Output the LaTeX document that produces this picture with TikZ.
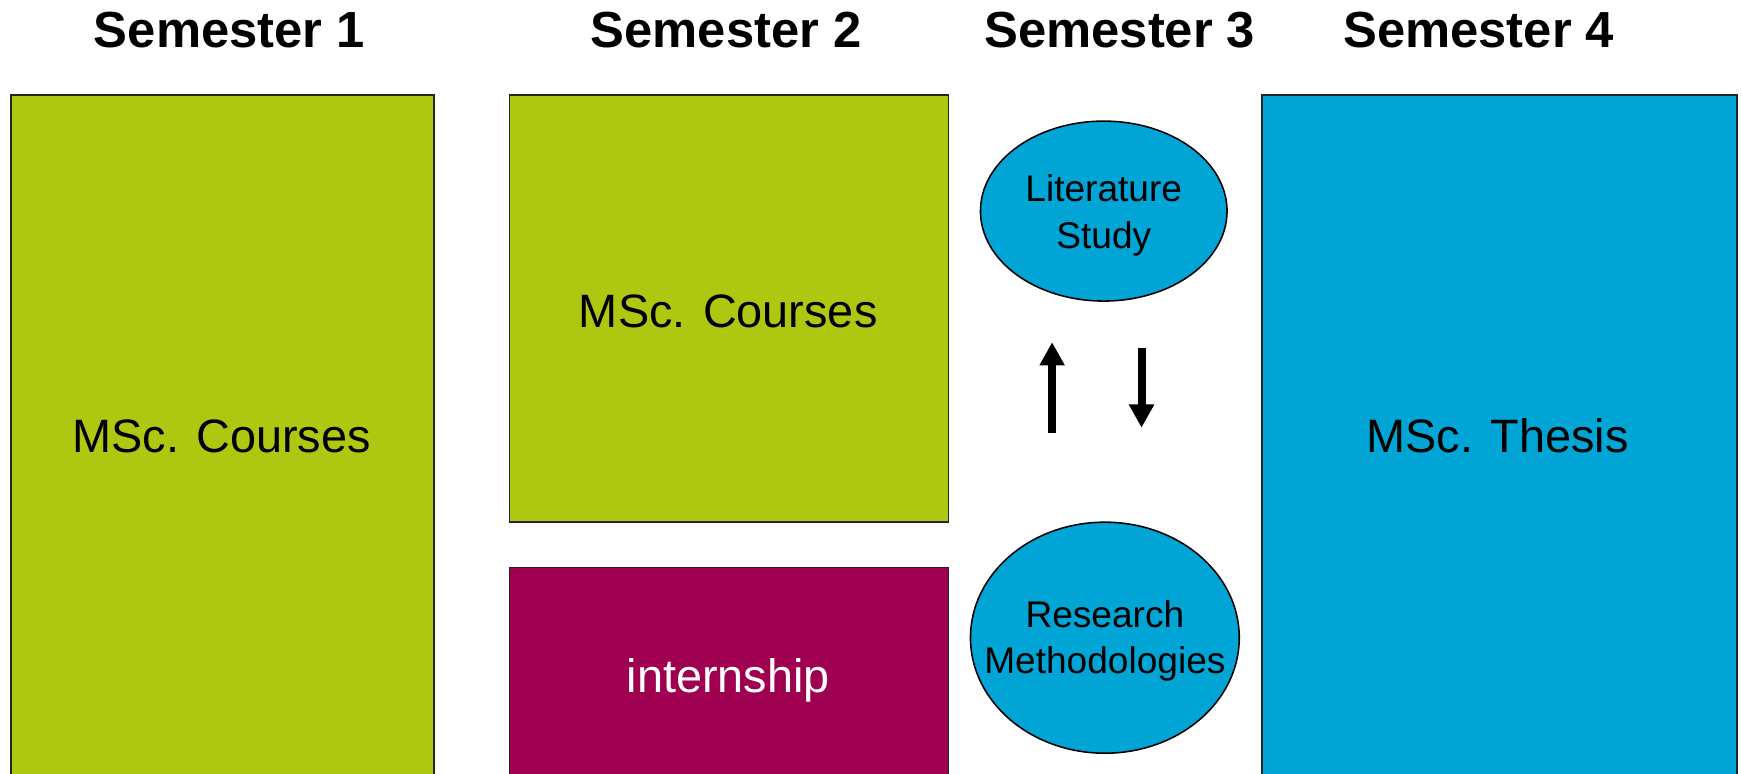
\documentclass[tikz,border=0pt]{standalone}
\usepackage{fontspec}
\setmainfont{Liberation Sans}
\usetikzlibrary{arrows.meta,shapes.geometric}
\definecolor{cgreen}{RGB}{174,199,16}
\definecolor{cmag}{RGB}{160,0,80}
\definecolor{cblue}{RGB}{0,165,214}
\tikzset{
  title/.style={font=\fontsize{26}{31}\selectfont\bfseries, anchor=base, inner sep=0pt},
  bigtext/.style={font=\fontsize{24}{29}\selectfont, anchor=base, inner sep=0pt},
  smalltext/.style={font=\fontsize{19}{23.8}\selectfont, align=center, inner sep=0pt},
  boxshape/.style={draw=black!85, line width=0.8pt, rectangle, anchor=north west, inner sep=0pt},
  ellshape/.style={draw=black, line width=0.8pt, ellipse, fill=cblue, inner sep=0pt},
  arr/.style={line width=4.1pt, -{Triangle[width=12.2pt,length=11.9pt]}}
}
\begin{document}
\begin{tikzpicture}[x=0.02cm, y=-0.02cm]
\useasboundingbox (0,0) rectangle (1568,696);
\clip (0,0) rectangle (1568,696);
\fill[white] (0,0) rectangle (1568,696);
% titles
\node[title] (t1) at (206.5,42.6) {Semester 1};
\node[title] (t2) at (653.5,42.6) {Semester 2};
\node[title] (t3) at (1008,42.6) {Semester 3};
\node[title] (t4) at (1331,42.6) {Semester 4};
% boxes
\node[boxshape, fill=cgreen, minimum width=7.62cm, minimum height=12.3cm] (b1) at (9,85) {};
\node[boxshape, fill=cgreen, minimum width=7.9cm, minimum height=7.68cm] (b2) at (458,85) {};
\node[boxshape, fill=cmag, minimum width=7.9cm, minimum height=3.8cm] (b3) at (458,510) {};
\node[boxshape, fill=cblue, minimum width=8.56cm, minimum height=12.3cm] (b4) at (1135,85) {};
\node[bigtext] (b1t) at (199.5,407) {MSc. Courses};
\node[bigtext] (b2t) at (655.5,295) {MSc. Courses};
\node[bigtext, text=white] (b3t) at (655.5,623.5) {internship};
\node[bigtext] (b4t) at (1348,407) {MSc. Thesis};
% ellipses
\node[ellshape, minimum width=4.44cm, minimum height=3.24cm] (e1) at (993.5,190) {};
\node[smalltext] (e1t) at ([yshift=-0.08cm]e1.center) {Literature\\Study};
\node[ellshape, minimum width=4.84cm, minimum height=4.16cm] (e2) at (994.5,574) {};
\node[smalltext] (e2t) at ([yshift=-0.06cm]e2.center) {Research\\Methodologies};
% arrows
\coordinate (u1) at (947,390);
\coordinate (u2) at (947,308);
\coordinate (d1) at (1027.5,313);
\coordinate (d2) at (1027.5,385);
\draw[arr] (u1) -- (u2);
\draw[arr] (d1) -- (d2);
\end{tikzpicture}
\end{document}
